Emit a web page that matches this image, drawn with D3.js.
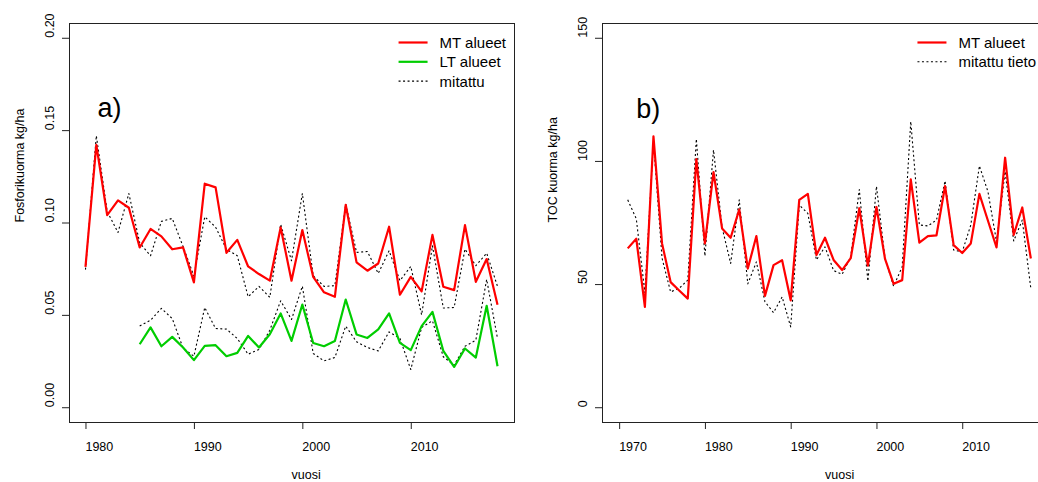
<!doctype html>
<html>

<head>
    <title>Fosfori- ja TOC-kuorma</title>
    <script src="https://d3js.org/d3.v7.min.js"></script>
    <style>
        body {
            margin: 0;
            background: white;
        }

        text {
            font-family: 'Liberation Sans', Arial, sans-serif;
            fill: black;
        }
    </style>
</head>

<body>
    <div id="chart"></div>

    <script>
        // ---- data ----
        // panel a) phosphorus load, kg/ha
        var yearsP = d3.range(1980, 2019);
        var mtP = [0.076, 0.142, 0.104, 0.112, 0.108, 0.0865, 0.0965, 0.0925, 0.0855, 0.0865,
            0.0676, 0.121, 0.119, 0.0836, 0.0906, 0.0762, 0.0721, 0.0685, 0.0973, 0.0685,
            0.0959, 0.0706, 0.0622, 0.0598, 0.1096, 0.0784, 0.0739, 0.0778, 0.0977, 0.0609,
            0.0706, 0.0627, 0.0933, 0.0652, 0.0634, 0.0986, 0.0679, 0.0802, 0.0555];
        var measP = [0.0745, 0.147, 0.106, 0.0946, 0.1157, 0.089, 0.082, 0.1006, 0.1022, 0.087,
            0.071, 0.1031, 0.0975, 0.0855, 0.082, 0.0598, 0.0654, 0.0595, 0.099, 0.0793,
            0.1157, 0.0712, 0.0654, 0.0658, 0.110, 0.0838, 0.0843, 0.0724, 0.0847, 0.0685,
            0.0762, 0.050, 0.0874, 0.0537, 0.054, 0.0856, 0.0766, 0.0834, 0.0654];

        var yearsLt = d3.range(1985, 2019);
        var ltP = [0.0341, 0.0432, 0.033, 0.0381, 0.0323, 0.0255, 0.0332, 0.0336, 0.0276, 0.0294,
            0.0386, 0.0323, 0.0395, 0.0508, 0.0359, 0.0556, 0.0348, 0.033, 0.0359, 0.0583,
            0.0394, 0.0375, 0.0421, 0.0508, 0.0348, 0.0309, 0.0439, 0.0516, 0.0305, 0.0218,
            0.0318, 0.0269, 0.0549, 0.0222];
        var measLtP = [0.044, 0.0471, 0.0535, 0.048, 0.032, 0.0276, 0.054, 0.0426, 0.0423, 0.0372,
            0.0287, 0.0312, 0.0417, 0.0576, 0.0475, 0.0655, 0.0291, 0.0251, 0.0269, 0.0439,
            0.0354, 0.0323, 0.0305, 0.0408, 0.0372, 0.0204, 0.0432, 0.0468, 0.0273, 0.0228,
            0.033, 0.0363, 0.0692, 0.0372];

        // panel b) TOC load, kg/ha
        var yearsToc = d3.range(1971, 2019);
        var mtToc = [64.5, 68.4, 40.7, 110, 66.5, 50.8, 47.4, 44.1, 100.7, 66.5,
            95.5, 72.6, 68.8, 80.3, 56.3, 69.5, 45.2, 57.7, 59.7, 43.4,
            84.2, 86.6, 61.8, 68.8, 59.8, 55.7, 60.5, 80.8, 57.5, 81.3,
            60.2, 50.1, 51.6, 92.5, 66.8, 69.5, 69.8, 89.8, 65.8, 62.6,
            66.5, 86.6, 75.7, 64.9, 101.3, 70, 81.1, 60.4];
        var measToc = [84.2, 76.5, 46.5, 108, 60.5, 46.8, 48.3, 51.6, 108.9, 61.4,
            104.5, 73, 58.4, 84.2, 50.1, 59, 42.8, 38.4, 44.8, 32.6,
            82.1, 78.7, 59.8, 65.1, 55.5, 54, 61.1, 88.4, 51.2, 89.7,
            60.4, 49.1, 57, 116, 74, 73.6, 76, 91.9, 63.8, 63.1,
            74, 98, 87.5, 67.2, 95.7, 67.5, 76, 48.2];

        // ticks
        var xTicksP = [1980, 1990, 2000, 2010];
        var yTicksP = [0, 0.05, 0.10, 0.15, 0.20];
        var xTicksToc = [1970, 1980, 1990, 2000, 2010];
        var yTicksToc = [0, 50, 100, 150];

        var red = "#ff0000",
            green = "#00cd00";

        var svg = d3.select("#chart")
            .append("svg")
            .attr("width", 1038)
            .attr("height", 482);

        svg.append("rect")
            .attr("width", 1038)
            .attr("height", 482)
            .attr("fill", "white");

        // R style: extend limits by 4 %
        function ext(lo, hi) {
            var d = (hi - lo) * 0.04;
            return [lo - d, hi + d];
        }

        function zip(xs, ys) {
            return xs.map(function (x, i) {
                return [x, ys[i]];
            });
        }

        function styleLine(sel, s) {
            sel.attr("fill", "none")
                .attr("stroke", s.color)
                .attr("stroke-width", s.dash ? 1.1 : 2.2)
                .attr("stroke-dasharray", s.dash ? "2,2.5" : null)
                .attr("stroke-linejoin", "round");
        }

        function panel(opt) {
            var g = svg.append("g");
            var x = opt.x,
                y = opt.y;
            var left = x.range()[0],
                right = x.range()[1],
                top = y.range()[1],
                bottom = y.range()[0];

            var line = d3.line()
                .x(function (d) { return x(d[0]); })
                .y(function (d) { return y(d[1]); });

            // series
            opt.series.forEach(function (s) {
                g.append("path")
                    .datum(zip(s.years, s.values))
                    .attr("d", line)
                    .call(styleLine, s);
            });

            // box
            g.append("rect")
                .attr("x", left + 0.5)
                .attr("y", top + 0.5)
                .attr("width", right - left)
                .attr("height", bottom - top)
                .attr("fill", "none")
                .attr("stroke", "#222")
                .attr("stroke-width", 1);

            // x axis
            opt.xTicks.forEach(function (t) {
                g.append("line")
                    .attr("x1", x(t) + 0.5).attr("x2", x(t) + 0.5)
                    .attr("y1", bottom).attr("y2", bottom + 7)
                    .attr("stroke", "#222");
                g.append("text")
                    .attr("x", x(t))
                    .attr("y", bottom + 29)
                    .attr("font-size", "12.5px")
                    .text(t);
            });

            // y axis
            opt.yTicks.forEach(function (t) {
                g.append("line")
                    .attr("x1", left - 7).attr("x2", left)
                    .attr("y1", y(t) + 0.5).attr("y2", y(t) + 0.5)
                    .attr("stroke", "#222");
                g.append("text")
                    .attr("transform", "translate(" + (left - 15.5) + "," + y(t) + ") rotate(-90)")
                    .attr("font-size", "12.5px")
                    .text(opt.yFormat(t));
            });

            // axis titles
            g.append("text")
                .attr("x", (left + right) / 2)
                .attr("y", 479)
                .attr("font-size", "12.5px")
                .text("vuosi");
            g.append("text")
                .attr("transform", "translate(" + (left - 45) + "," + (top + bottom) / 2 + ") rotate(-90)")
                .attr("font-size", "12.5px")
                .text(opt.yLabel);

            // panel letter
            g.append("text")
                .attr("x", x(opt.tag[0]))
                .attr("y", y(opt.tag[1]))
                .attr("font-size", "27px")
                .text(opt.tag[2]);

            // legend (topright)
            var texts = opt.legend.map(function (s, i) {
                return g.append("text")
                    .attr("y", top + 25 + i * 19.3)
                    .attr("font-size", "15px")
                    .text(s.label);
            });
            var w = d3.max(texts, function (t) { return t.node().getComputedTextLength(); });
            var tx = Math.min(right - 8, opt.legendEnd) - w;
            texts.forEach(function (t, i) {
                t.attr("x", tx);
                g.append("line")
                    .attr("x1", tx - 41).attr("x2", tx - 12)
                    .attr("y1", top + 19.5 + i * 19.3).attr("y2", top + 19.5 + i * 19.3)
                    .call(styleLine, opt.legend[i]);
            });
        }

        // panel a)
        panel({
            x: d3.scaleLinear().domain(ext(1980, 2018)).range([69, 514]),
            y: d3.scaleLinear().domain(ext(0, 0.2)).range([422, 23]),
            xTicks: xTicksP,
            yTicks: yTicksP,
            yFormat: d3.format(".2f"),
            yLabel: "Fosforikuorma kg/ha",
            tag: [1981.1, 0.157, "a)"],
            series: [
                { years: yearsP, values: measP, color: "black", dash: true },
                { years: yearsLt, values: measLtP, color: "black", dash: true },
                { years: yearsP, values: mtP, color: red },
                { years: yearsLt, values: ltP, color: green }
            ],
            legend: [
                { label: "MT alueet", color: red },
                { label: "LT alueet", color: green },
                { label: "mitattu", color: "black", dash: true }
            ],
            legendEnd: 1038
        });

        // panel b)
        panel({
            x: d3.scaleLinear().domain([1968, 2020]).range([602, 1048]),
            y: d3.scaleLinear().domain(ext(0, 150)).range([422, 23]),
            xTicks: xTicksToc,
            yTicks: yTicksToc,
            yFormat: d3.format("d"),
            yLabel: "TOC kuorma kg/ha",
            tag: [1972, 117.5, "b)"],
            series: [
                { years: yearsToc, values: measToc, color: "black", dash: true },
                { years: yearsToc, values: mtToc, color: red }
            ],
            legend: [
                { label: "MT alueet", color: red },
                { label: "mitattu tieto", color: "black", dash: true }
            ],
            legendEnd: 1036
        });
    </script>
</body>

</html>
